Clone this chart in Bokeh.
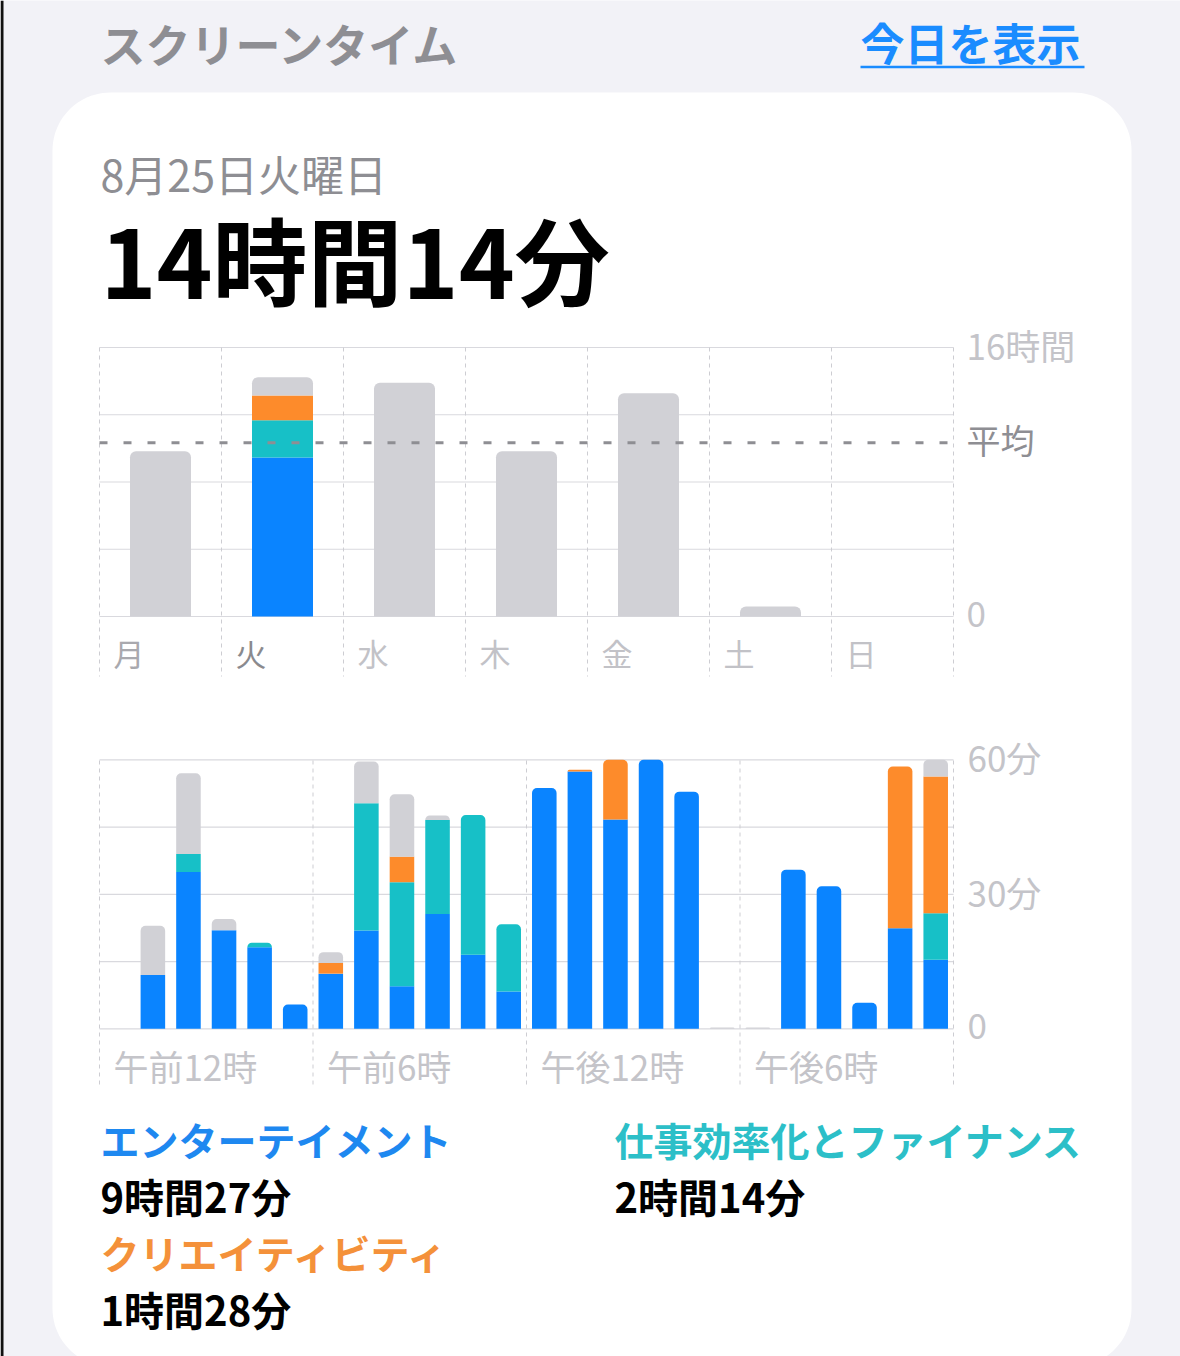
import numpy as np
from bokeh.plotting import figure
from bokeh.models import Range1d, ColumnDataSource
from bokeh.core.properties import value
from bokeh.embed import file_html
from bokeh.resources import INLINE

# ---------------- data ----------------
categories = ["エンターテイメント", "仕事効率化とファイナンス", "クリエイティビティ", "その他"]
cat_colors = ["#0a84ff", "#17c0c7", "#fd8b2b", "#d1d1d6"]

days = ["月", "火", "水", "木", "金", "土", "日"]
week_ent = [0, 9.45, 0, 0, 0, 0, 0]          # hours
week_prod = [0, 2.23, 0, 0, 0, 0, 0]
week_cre = [0, 1.47, 0, 0, 0, 0, 0]
week_other = [9.83, 1.08, 13.9, 9.83, 13.28, 0.6, 0]
avg_hours = 10.33
week_ticks = [16, 0]
week_tick_labels = ["16時間", "0"]

hour_ent = [0, 12, 35, 22, 18.2, 5.4, 12.3, 21.9, 9.5, 25.6, 16.5, 8.3,
            53.7, 57.4, 46.7, 60, 52.9, 0, 0, 35.5, 31.8, 5.8, 22.4, 15.4]   # minutes
hour_prod = [0, 0, 4, 0, 1, 0, 0, 28.4, 23.2, 21, 31.2, 15,
             0, 0, 0, 0, 0, 0, 0, 0, 0, 0, 0, 10.4]
hour_cre = [0, 0, 0, 0, 0, 0, 2.4, 0, 5.7, 0, 0, 0,
            0, 0.4, 13.3, 0, 0, 0, 0, 0, 0, 0, 36.1, 30.5]
hour_other = [0, 11, 18, 2.5, 0, 0, 2.4, 9.3, 13.9, 1, 0, 0,
              0, 0, 0, 0, 0, 0.3, 0.3, 0, 0, 0, 0, 3.7]
hour_ticks = [60, 30, 0]
hour_tick_labels = ["60分", "30分", "0"]
hour_label_pos = [0, 6, 12, 18]
hour_labels = ["午前12時", "午前6時", "午後12時", "午後6時"]

title_text = "スクリーンタイム"
link_text = "今日を表示"
date_text = "8月25日火曜日"
total_text = "14時間14分"
legend_names = ["エンターテイメント", "仕事効率化とファイナンス", "クリエイティビティ"]
legend_times = ["9時間27分", "2時間14分", "1時間28分"]

# ---------------- layout ----------------
W, H = 1180, 1356
PX0, PX1, PY0, PY1 = 0, W, 0, H
FONT = value("Noto Sans CJK JP")


def lin_range(v0, p0, v1, p1, pa, pb):
    s = (v1 - v0) / (p1 - p0)
    return Range1d(v0 + (pa - p0) * s, v0 + (pb - p0) * s)


p = figure(width=W, height=H, x_range=Range1d(PX0, PX1), y_range=Range1d(PY1, PY0),
           output_backend="svg", toolbar_location=None, min_border=0,
           x_axis_type=None, y_axis_type=None,
           background_fill_color="#f2f2f7", border_fill_color="#f2f2f7",
           outline_line_color=None)
p.grid.visible = False

# chart scales
p.extra_x_ranges = {
    "wx": lin_range(0, 99, 7, 953, PX0, PX1),
    "hx": lin_range(0, 99, 24, 953, PX0, PX1),
}
p.extra_y_ranges = {
    "wy": lin_range(0, 616, 16, 347, PY1, PY0),
    "hy": lin_range(0, 1028.3, 60, 759.3, PY1, PY0),
}
WY_PX = 16 / 269.0      # hours per pixel (weekly)
HY_PX = 60 / 269.0      # minutes per pixel (hourly)


def rounded_rect(x0, y0, x1, y1, r, n=24):
    t = np.linspace(0, np.pi / 2, n)
    xs = np.concatenate([
        (x0 + r) - r * np.cos(t), (x1 - r) + r * np.sin(t),
        (x1 - r) + r * np.cos(t), (x0 + r) - r * np.sin(t)])
    ys = np.concatenate([
        (y0 + r) - r * np.sin(t), (y0 + r) - r * np.cos(t),
        (y1 - r) + r * np.sin(t), (y1 - r) + r * np.cos(t)])
    return xs, ys


# left dark edge of the screenshot
p.quad(left=[0], right=[3], top=[0], bottom=[H], fill_color="#111111", line_color=None)

cx, cy = rounded_rect(52, 92, 1131, 1366, 58)
p.patch(cx, cy, fill_color="white", line_color=None)

# header texts
p.text(x=[100], y=[43], text=[title_text], text_font=FONT, text_font_size="45px",
       text_font_style="bold", text_color="#8e8e93", text_baseline="middle")
p.text(x=[860], y=[41], text=[link_text], text_font=FONT, text_font_size="44px",
       text_font_style="bold", text_color="#1a8cff", text_baseline="middle")
p.segment(x0=[860], y0=[66.5], x1=[1084], y1=[66.5], line_color="#1a8cff", line_width=2.5)
p.text(x=[100], y=[172], text=[date_text], text_font=FONT, text_font_size="43px",
       text_color="#8e8e93", text_baseline="middle")
p.text(x=[100], y=[257], text=[total_text], text_font=FONT, text_font_size="95px",
       text_font_style="bold", text_color="#000000", text_baseline="middle")

grid_col = "#d9d9de"
vgrid_col = "#cdcdd2"


def stack_segments(xs, series, colors):
    flat = dict(x=[], bottom=[], top=[], color=[])
    tops = dict(x=[], bottom=[], top=[], color=[])
    for i, x in enumerate(xs):
        cum = 0.0
        segs = []
        for vals, c in zip(series, colors):
            v = vals[i]
            if v > 0:
                segs.append((cum, cum + v, c))
                cum += v
        for j, (b, t, c) in enumerate(segs):
            d = tops if j == len(segs) - 1 else flat
            d["x"].append(x)
            d["bottom"].append(b)
            d["top"].append(t)
            d["color"].append(c)
    return ColumnDataSource(flat), ColumnDataSource(tops)


# ---------- weekly chart ----------
wk = dict(x_range_name="wx", y_range_name="wy")
for g in [0, 4, 8, 12, 16]:
    p.segment(x0=[0], y0=[g], x1=[7], y1=[g], line_color=grid_col, line_width=1.2, **wk)
for i in range(8):
    p.segment(x0=[i], y0=[347], x1=[i], y1=[676], line_color=vgrid_col, line_width=1,
              line_dash="4 4", x_range_name="wx")

wxs = [i + 0.5 for i in range(len(days))]
wflat, wtops = stack_segments(wxs, [week_ent, week_prod, week_cre, week_other], cat_colors)
p.vbar(x="x", bottom="bottom", top="top", width=0.5, fill_color="color", line_color=None,
       source=wflat, **wk)
p.vbar(x="x", bottom="bottom", top="top", width=0.5, fill_color="color", line_color=None,
       border_radius=(6, 6, 0, 0), source=wtops, **wk)

p.segment(x0=[0], y0=[avg_hours], x1=[7], y1=[avg_hours], line_color="#8e8e93",
          line_width=3, line_dash="8 16", **wk)

day_colors = ["#a9a9ae", "#8a8a8e", "#c2c2c7", "#c2c2c7", "#c2c2c7", "#c2c2c7", "#c2c2c7"]
p.text(x=[i + 0.115 for i in range(len(days))], y=[652] * len(days), text=days,
       text_font=FONT, text_font_size="31px", text_color=day_colors,
       text_baseline="middle", x_range_name="wx")
p.text(x=[966] * len(week_ticks), y=[t + 3 * WY_PX for t in week_ticks],
       text=week_tick_labels, text_font=FONT,
       text_font_size="35px", text_color="#c4c4c9", text_baseline="middle",
       y_range_name="wy")
p.text(x=[966], y=[avg_hours + 3 * WY_PX], text=["平均"], text_font=FONT,
       text_font_size="34px", text_color="#8e8e93", text_baseline="middle",
       y_range_name="wy")

# ---------- hourly chart ----------
hk = dict(x_range_name="hx", y_range_name="hy")
for g in [0, 15, 30, 45, 60]:
    p.segment(x0=[0], y0=[g], x1=[24], y1=[g], line_color=grid_col, line_width=1.2, **hk)
for hpos in [0, 6, 12, 18, 24]:
    p.segment(x0=[hpos], y0=[760], x1=[hpos], y1=[1088], line_color=vgrid_col, line_width=1,
              line_dash="4 4", x_range_name="hx")

hxs = [h + 0.5 for h in range(24)]
hflat, htops = stack_segments(hxs, [hour_ent, hour_prod, hour_cre, hour_other], cat_colors)
p.vbar(x="x", bottom="bottom", top="top", width=0.69, fill_color="color", line_color=None,
       source=hflat, **hk)
p.vbar(x="x", bottom="bottom", top="top", width=0.69, fill_color="color", line_color=None,
       border_radius=(5, 5, 0, 0), source=htops, **hk)

p.text(x=[v + 0.39 for v in hour_label_pos], y=[1065] * len(hour_labels), text=hour_labels,
       text_font=FONT, text_font_size="35px", text_color="#c4c4c9", text_baseline="middle",
       x_range_name="hx")
p.text(x=[967] * len(hour_ticks), y=[t + 3 * HY_PX for t in hour_ticks],
       text=hour_tick_labels, text_font=FONT,
       text_font_size="35px", text_color="#c4c4c9", text_baseline="middle",
       y_range_name="hy")

# ---------- legend ----------
leg_colors = ["#1e88f0", "#2cbfc8", "#f4913a"]
leg_x = [100, 614, 100]
leg_y = [1138, 1138, 1251]
p.text(x=leg_x, y=leg_y, text=legend_names, text_font=FONT, text_font_size="39px",
       text_font_style="bold", text_color=leg_colors, text_baseline="middle")
p.text(x=leg_x, y=[v + 57 for v in leg_y], text=legend_times, text_font=FONT,
       text_font_size="40px", text_font_style="bold", text_color="#000000",
       text_baseline="middle")

open("out.html", "w").write(file_html(p, INLINE))
